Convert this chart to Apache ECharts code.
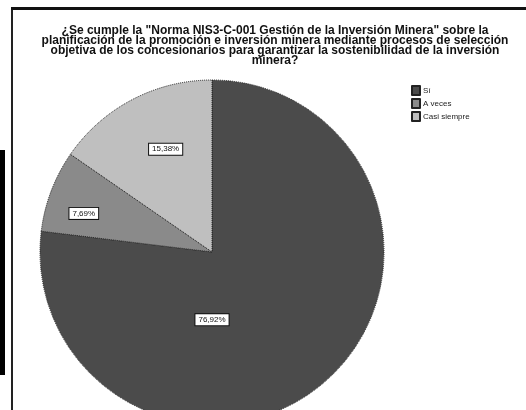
<!DOCTYPE html>
<html>
<head>
<meta charset="utf-8">
<script src="https://cdn.jsdelivr.net/npm/echarts@6/dist/echarts.min.js"></script>
<style>html,body{margin:0;padding:0;background:#fff;}#c{width:526px;height:410px;}</style>
</head>
<body>
<div id="c"></div>
<script>
var titleLines = [
  '¿Se cumple la "Norma NIS3-C-001 Gestión de la Inversión Minera" sobre la',
  'planificación de la promoción e inversión minera mediante procesos de selección',
  'objetiva de los concesionarios para garantizar la sostenibilidad de la inversión',
  'minera?'
];
var categories = ['Sí', 'A veces', 'Casi siempre'];
var values = [76.92, 7.69, 15.38];
var labels = ['76,92%', '7,69%', '15,38%'];
var colors = ['#4b4b4b', '#8a8a8a', '#bfbfbf'];
var labelOffsets = [[-59, 1], [-45, -7], [-5, -24]];

var chart = echarts.init(document.getElementById('c'), null, {renderer: 'canvas'});
var data = categories.map(function (c, i) {
  return {
    name: c, value: values[i],
    itemStyle: {color: colors[i]},
    label: {offset: labelOffsets[i]}
  };
});
chart.setOption({
  animation: false,
  backgroundColor: '#ffffff',
  title: {
    text: titleLines.join('\n'),
    left: 270, top: 21, textAlign: 'center',
    textStyle: {fontFamily: 'Liberation Sans', fontWeight: 'bold', fontSize: 12, lineHeight: 9.8, color: '#111'}
  },
  legend: {
    orient: 'vertical', left: 406, top: 80,
    itemWidth: 8, itemHeight: 9, itemGap: 2,
    icon: 'rect',
    textStyle: {fontFamily: 'Liberation Sans', fontSize: 8, color: '#222', padding: [0, 0, 0, -2]},
    data: categories
  },
  graphic: [
    {type: 'rect', shape: {x: 0, y: 150, width: 5, height: 225}, style: {fill: '#000'}},
    {type: 'rect', shape: {x: 11, y: 8, width: 2, height: 402}, style: {fill: '#222'}},
    {type: 'rect', shape: {x: 11, y: 7, width: 515, height: 3}, style: {fill: '#111'}}
  ],
  series: [{
    type: 'pie',
    center: [212, 252],
    radius: 172,
    startAngle: 90,
    clockwise: true,
    silent: true,
    itemStyle: {borderColor: '#222', borderWidth: 1, borderType: 'dotted'},
    label: {
      show: true, position: 'inside',
      formatter: function (p) { return labels[p.dataIndex]; },
      fontFamily: 'Liberation Sans', fontSize: 8, color: '#111',
      backgroundColor: '#fff', borderColor: '#111', borderWidth: 1,
      padding: [2, 3, 1, 3]
    },
    labelLine: {show: false},
    data: data
  }]
});
</script>
</body>
</html>
